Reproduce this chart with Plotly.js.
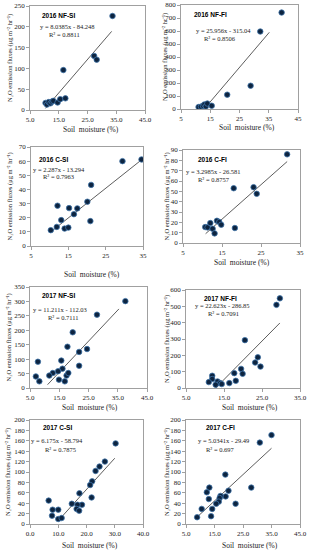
<!DOCTYPE html>
<html><head><meta charset="utf-8">
<script src="https://cdn.plot.ly/plotly-3.0.1.min.js"></script>
<style>html,body{margin:0;padding:0;background:#fff}#chart{width:309px;height:550px}
#rp{position:absolute;left:0;top:0;width:1px;height:1px;font:1px monospace;color:#fff;overflow:hidden}</style>
</head><body><div id="chart"></div><div id="rp"></div>
<script>
// ---------------- DATA ----------------
const panelTitles = ['2016 NF-SI','2016 NF-FI','2016 C-SI','2016 C-FI','2017 NF-SI','2017 NF-FI','2017 C-SI','2017 C-FI'];
const equations = ['y = 8.0385x - 84.248','y = 25.956x - 315.04','y = 2.287x - 13.294','y = 3.2985x - 26.581',
                   'y = 11.211x - 112.03','y = 22.623x - 286.85','y = 6.175x - 58.794','y = 5.0341x - 29.49'];
const r2Labels = ['R² = 0.8811','R² = 0.8506','R² = 0.7963','R² = 0.8757','R² = 0.7111','R² = 0.7091','R² = 0.7875','R² = 0.697'];
const xAxisTitle = 'Soil  moisture (%)';
const yAxisTitle = 'N₂O emission fluxes (μg m⁻² hr⁻¹)';

const nfsi2016X = [10.4, 10.9, 11.5, 12.1, 12.6, 13.1, 14.6, 15.5, 17.3, 16.6, 27.3, 28.2, 33.7];
const nfsi2016Y = [17, 13, 19, 16, 20, 22, 18, 26, 28, 96, 130, 121, 226];
const nfsi2016TrendX = [10.4, 33.4];
const nfsi2016TrendY = [4, 189];

const nffi2016X = [11.0, 11.8, 12.5, 13.0, 13.5, 14.0, 15.5, 20.8, 28.8, 32.1, 39.4];
const nffi2016Y = [15, 18, 25, 35, 20, 42, 25, 110, 179, 596, 742];
const nffi2016TrendX = [13.9, 35.2];
const nffi2016TrendY = [26, 590];

const csi2016X = [10.3, 11.9, 12.1, 13.1, 14.0, 15.0, 15.2, 16.5, 17.4, 20.1, 21.1, 20.9, 29.5, 34.6];
const csi2016Y = [11.2, 13.5, 28.5, 18.3, 12.3, 13.0, 26.8, 22.5, 26.6, 31.3, 43.2, 17.6, 60.0, 61.2];
const csi2016TrendX = [10.3, 34.4];
const csi2016TrendY = [10, 60.5];

const cfi2016X = [10.7, 11.3, 12.0, 12.6, 13.1, 13.7, 14.3, 14.8, 18.3, 18.0, 23.1, 23.9, 31.7];
const cfi2016Y = [15.4, 15.1, 19.3, 13.8, 9.3, 21.5, 20.3, 17.7, 14.5, 53, 54, 47.6, 85.8];
const cfi2016TrendX = [10.8, 31.7];
const cfi2016TrendY = [9.0, 78.8];

const nfsi2017X = [37.6, 27.9, 19.6, 17.8, 24.5, 21.8, 15.7, 7.7, 21.8, 16.1, 12.8, 11.6, 7.0, 8.2, 14.9, 16.9, 17.5, 18.1, 14.6];
const nfsi2017Y = [301, 254, 193, 143, 135, 125, 95, 91, 77, 67, 52, 43, 40, 23, 29, 23, 43, 52, 58];
const nfsi2017TrendX = [11.0, 35.4];
const nfsi2017TrendY = [11.5, 274];

const nffi2017X = [29.7, 28.8, 20.5, 23.9, 23.2, 24.6, 19.5, 19.9, 17.7, 18.1, 16.4, 11.9, 11.9, 11.0, 13.3, 14.0, 12.8, 14.4];
const nffi2017Y = [549, 509, 293, 188, 156, 131, 117, 87, 91, 44, 30, 75, 55, 36, 40, 30, 20, 24];
const nffi2017TrendX = [12.8, 29.7];
const nffi2017TrendY = [0, 398];

const csi2017X = [30.3, 26.5, 24.6, 23.2, 22.0, 21.3, 21.8, 17.5, 18.4, 16.8, 16.5, 17.4, 14.8, 6.6, 8.0, 7.8, 10.0, 10.0, 11.2];
const csi2017Y = [155, 120, 110.5, 102, 82, 75, 51, 59, 37, 37, 29, 25.6, 39, 45, 27.5, 16, 27.5, 9.6, 11.5];
const csi2017TrendX = [10.0, 30.0];
const csi2017TrendY = [6.4, 126.5];

const cfi2017X = [35.0, 30.9, 27.9, 18.8, 19.9, 18.9, 22.4, 17.1, 16.8, 16.5, 15.6, 13.2, 12.3, 13.0, 14.2, 13.8, 10.5, 8.9];
const cfi2017Y = [171, 156.5, 70, 95, 64, 53, 39, 54, 50, 43, 39, 70, 61, 48, 29, 15, 29, 13];
const cfi2017TrendX = [8.9, 35.0];
const cfi2017TrendY = [13.4, 145.7];

const xRanges = [[5,45],[5,45],[5,35],[5,35],[5,45],[5,35],[0,40],[5,45]];
const yRanges = [[0,250],[0,800],[0,70],[0,90],[0,350],[0,600],[0,200],[0,200]];
const yDticks = [50,100,10,10,50,100,20,20];
const xTickFormats = ['.1f','d','d','d','.1f','.1f','.1f','.1f'];

const seriesX = [nfsi2016X,nffi2016X,csi2016X,cfi2016X,nfsi2017X,nffi2017X,csi2017X,cfi2017X];
const seriesY = [nfsi2016Y,nffi2016Y,csi2016Y,cfi2016Y,nfsi2017Y,nffi2017Y,csi2017Y,cfi2017Y];
const trendXs = [nfsi2016TrendX,nffi2016TrendX,csi2016TrendX,cfi2016TrendX,nfsi2017TrendX,nffi2017TrendX,csi2017TrendX,cfi2017TrendX];
const trendYs = [nfsi2016TrendY,nffi2016TrendY,csi2016TrendY,cfi2016TrendY,nfsi2017TrendY,nffi2017TrendY,csi2017TrendY,cfi2017TrendY];

// ---------------- LAYOUT (pixel geometry) ----------------
const W = 309, H = 550;
const boxes = [[30,145,6,110],[181,298,5,109],[31,143,147,246],[183,300,150,243],
               [30,147,287,388],[186,300,290,388],[30,143,420,524],[186,300,420,524]];
const titlePos = [[58,16],[210,15],[53,159],[212,159],[58,295],[220,299],[57,427],[220,427]];
const eqPos = [[67,27],[223,30],[59,169],[213,171],[60,309],[222,305],[57,441],[223,441]];
const r2Pos = [[64,35],[220,38],[58,177],[214,179],[63,317],[223,313],[60,449],[220,449]];
const xTitlePos = [[91,130],[247,127],[92,274],[242,262],[90,407],[250,407],[90,545],[250,545]];
const yTitleX = [10,165,9,166,8,167,8,167];

const serif = 'Liberation Serif, Times New Roman, serif';
const px = x => x / W, py = y => 1 - y / H;

const traces = [];
const layout = {
  width: W, height: H, margin: {l:0,r:0,t:0,b:0},
  paper_bgcolor: '#fff', plot_bgcolor: 'rgba(0,0,0,0)', showlegend: false,
  font: {family: serif, size: 7, color: '#222'},
  annotations: []
};

for (let i = 0; i < 8; i++) {
  const n = i === 0 ? '' : String(i + 1);
  const b = boxes[i];
  const common = {
    ticks: 'outside', ticklen: 3, tickwidth: 0.7, tickcolor: '#777',
    showline: true, linecolor: '#888', linewidth: 0.8, mirror: true,
    showgrid: false, zeroline: false, fixedrange: true,
    tickfont: {family: serif, size: 7, color: '#222'}
  };
  layout['xaxis' + n] = Object.assign({
    domain: [px(b[0]), px(b[1])], range: xRanges[i], anchor: 'y' + n,
    dtick: 10, tick0: xRanges[i][0], tickformat: xTickFormats[i]
  }, common);
  layout['yaxis' + n] = Object.assign({
    domain: [py(b[3]), py(b[2])], range: yRanges[i], anchor: 'x' + n,
    dtick: yDticks[i], tick0: 0
  }, common);
  traces.push({
    type: 'scatter', mode: 'lines', x: trendXs[i], y: trendYs[i],
    xaxis: 'x' + n, yaxis: 'y' + n,
    line: {color: '#333', width: 0.8}, hoverinfo: 'skip'
  });
  traces.push({
    type: 'scatter', mode: 'markers', x: seriesX[i], y: seriesY[i],
    xaxis: 'x' + n, yaxis: 'y' + n,
    marker: {size: 5.5, color: '#0d2440', line: {color: '#3f74a8', width: 0.8}}
  });
  const A = layout.annotations;
  A.push({xref:'paper', yref:'paper', x:px(titlePos[i][0]), y:py(titlePos[i][1]), xanchor:'center', yanchor:'middle',
          text:'<b>' + panelTitles[i] + '</b>', showarrow:false,
          font:{family:'Liberation Sans, Arial, sans-serif', size:6.5, color:'#000'}});
  A.push({xref:'paper', yref:'paper', x:px(eqPos[i][0]), y:py(eqPos[i][1]), xanchor:'center', yanchor:'middle',
          text:equations[i], showarrow:false, font:{family:serif, size:6.5, color:'#222'}});
  A.push({xref:'paper', yref:'paper', x:px(r2Pos[i][0]), y:py(r2Pos[i][1]), xanchor:'center', yanchor:'middle',
          text:r2Labels[i], showarrow:false, font:{family:serif, size:6.5, color:'#222'}});
  A.push({xref:'paper', yref:'paper', x:px(xTitlePos[i][0]), y:py(xTitlePos[i][1]), xanchor:'center', yanchor:'middle',
          text:xAxisTitle, showarrow:false, font:{family:serif, size:7.5, color:'#222'}});
  A.push({xref:'paper', yref:'paper', x:px(yTitleX[i]), y:py((b[2] + b[3]) / 2), xanchor:'center', yanchor:'middle',
          text:yAxisTitle, textangle:-90, showarrow:false, font:{family:serif, size:6.5, color:'#222'}});
}

Plotly.newPlot('chart', traces, layout, {staticPlot: true, displayModeBar: false}).then(gd => {
  // force a repaint once drawing is complete
  document.getElementById('rp').textContent = ' ';
  const svg = gd.querySelector('svg.main-svg');
  if (svg) { svg.style.opacity = '0.999'; requestAnimationFrame(() => { svg.style.opacity = '1'; }); }
});
</script>
</body></html>
